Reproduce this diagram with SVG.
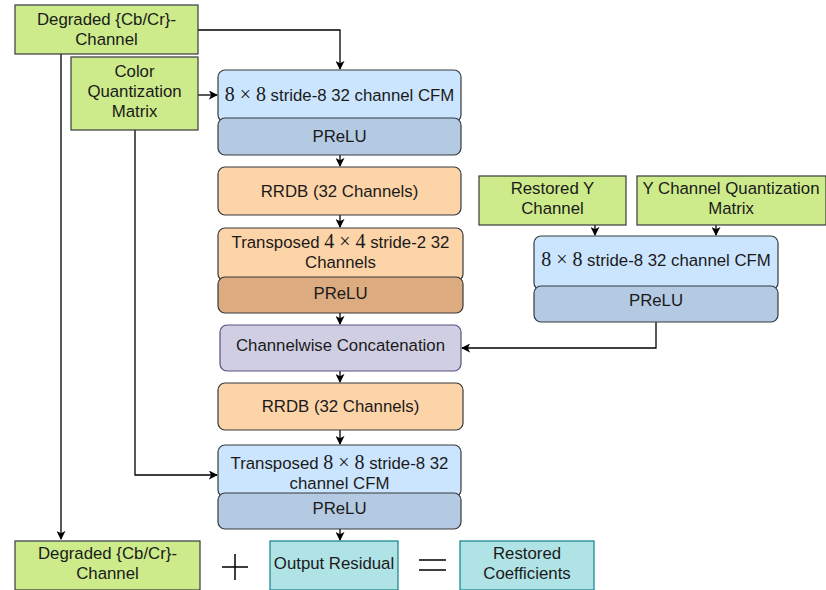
<svg xmlns="http://www.w3.org/2000/svg" width="826" height="590" viewBox="0 0 826 590">
<style>
text{font-family:"Liberation Sans",Arial,sans-serif;font-size:16.8px;fill:#1a1a1a;text-anchor:middle}
.m{font-family:"Liberation Serif","DejaVu Serif",serif;font-size:20px}
.g{fill:#cdeb8b;stroke:#36393d;stroke-width:1.2}
.b{fill:#cce5ff;stroke:#36393d;stroke-width:1.2}
.p{fill:#b3cae2;stroke:#36393d;stroke-width:1.2}
.o{fill:#fdd3a8;stroke:#36393d;stroke-width:1.2}
.t{fill:#dcab7f;stroke:#36393d;stroke-width:1.2}
.l{fill:#d0cee2;stroke:#56517e;stroke-width:1.2}
.c{fill:#b0e3e6;stroke:#0e8088;stroke-width:1.2}
.e{fill:none;stroke:#000;stroke-width:1.3}
.s{fill:none;stroke:#000;stroke-width:1.5}
</style>
<defs>
<marker id="a" viewBox="0 0 10 10" refX="9" refY="5" markerWidth="9" markerHeight="9" markerUnits="userSpaceOnUse" orient="auto">
<path d="M0,0 L10,5 L0,10 L2.5,5 Z" fill="#000"/>
</marker>
</defs>
<g id="connectors">
<path class="e" d="M198,30 H340 V69" marker-end="url(#a)"/>
<path class="e" d="M198,95 H217" marker-end="url(#a)"/>
<path class="e" d="M61,54 V539" marker-end="url(#a)"/>
<path class="e" d="M135,130 V475 H217" marker-end="url(#a)"/>
<path class="e" d="M340,155 V166" marker-end="url(#a)"/>
<path class="e" d="M340,215 V227" marker-end="url(#a)"/>
<path class="e" d="M340,313 V324" marker-end="url(#a)"/>
<path class="e" d="M340,371 V382" marker-end="url(#a)"/>
<path class="e" d="M340,430 V444" marker-end="url(#a)"/>
<path class="e" d="M340,529 V540" marker-end="url(#a)"/>
<path class="e" d="M595,225 V235" marker-end="url(#a)"/>
<path class="e" d="M716,225 V235" marker-end="url(#a)"/>
<path class="e" d="M656,322 V348 H462" marker-end="url(#a)"/>
</g>
<g id="degraded-top">
<rect class="g" x="15" y="5" width="183" height="49"/>
<text x="106.5" y="25">Degraded {Cb/Cr}-</text>
<text x="106.5" y="45">Channel</text>
</g>
<g id="color-qm">
<rect class="g" x="71" y="57" width="127" height="73"/>
<text x="134.5" y="77">Color</text>
<text x="134.5" y="97">Quantization</text>
<text x="134.5" y="117">Matrix</text>
</g>
<g id="cfm1">
<rect class="b" x="218" y="70" width="243" height="52" rx="7"/>
<rect class="p" x="218" y="118" width="243" height="37" rx="7"/>
<text x="339.5" y="101"><tspan class="m">8 × 8</tspan> stride-8 32 channel CFM</text>
<text x="339.5" y="142">PReLU</text>
</g>
<g id="rrdb1">
<rect class="o" x="218" y="167" width="243" height="48" rx="7"/>
<text x="339.5" y="197">RRDB (32 Channels)</text>
</g>
<g id="transposed4">
<rect class="o" x="218" y="228" width="245" height="53" rx="7"/>
<rect class="t" x="218" y="277" width="245" height="36" rx="7"/>
<text x="340.5" y="248">Transposed <tspan class="m">4 × 4</tspan> stride-2 32</text>
<text x="340.5" y="268">Channels</text>
<text x="340.5" y="299">PReLU</text>
</g>
<g id="concat">
<rect class="l" x="220" y="325" width="241" height="46" rx="7"/>
<text x="340.5" y="351">Channelwise Concatenation</text>
</g>
<g id="rrdb2">
<rect class="o" x="218" y="383" width="245" height="47" rx="7"/>
<text x="340.5" y="412">RRDB (32 Channels)</text>
</g>
<g id="transposed8">
<rect class="b" x="218" y="445" width="243" height="52" rx="7"/>
<rect class="p" x="218" y="493" width="243" height="36" rx="7"/>
<text x="339.5" y="469">Transposed <tspan class="m">8 × 8</tspan> stride-8 32</text>
<text x="339.5" y="489">channel CFM</text>
<text x="339.5" y="514">PReLU</text>
</g>
<g id="restored-y">
<rect class="g" x="479" y="176" width="147" height="49"/>
<text x="552.5" y="194">Restored Y</text>
<text x="552.5" y="214">Channel</text>
</g>
<g id="y-qm">
<rect class="g" x="637" y="176" width="189" height="49"/>
<text x="731" y="194">Y Channel Quantization</text>
<text x="731" y="214">Matrix</text>
</g>
<g id="cfm2">
<rect class="b" x="534" y="236" width="244" height="54" rx="7"/>
<rect class="p" x="534" y="286" width="244" height="36" rx="7"/>
<text x="656" y="266"><tspan class="m">8 × 8</tspan> stride-8 32 channel CFM</text>
<text x="656" y="306">PReLU</text>
</g>
<g id="degraded-bottom">
<rect class="g" x="15" y="541" width="185" height="49"/>
<text x="107.5" y="559">Degraded {Cb/Cr}-</text>
<text x="107.5" y="579">Channel</text>
</g>
<g id="plus">
<path class="s" d="M222,567 H248 M235,554 V580"/>
</g>
<g id="output-residual">
<rect class="c" x="270" y="541" width="128" height="49"/>
<text x="334" y="569">Output Residual</text>
</g>
<g id="equals">
<path class="s" d="M419,560 H446 M419,570 H446"/>
</g>
<g id="restored-coefficients">
<rect class="c" x="460" y="541" width="134" height="49"/>
<text x="527" y="559">Restored</text>
<text x="527" y="579">Coefficients</text>
</g>
</svg>
